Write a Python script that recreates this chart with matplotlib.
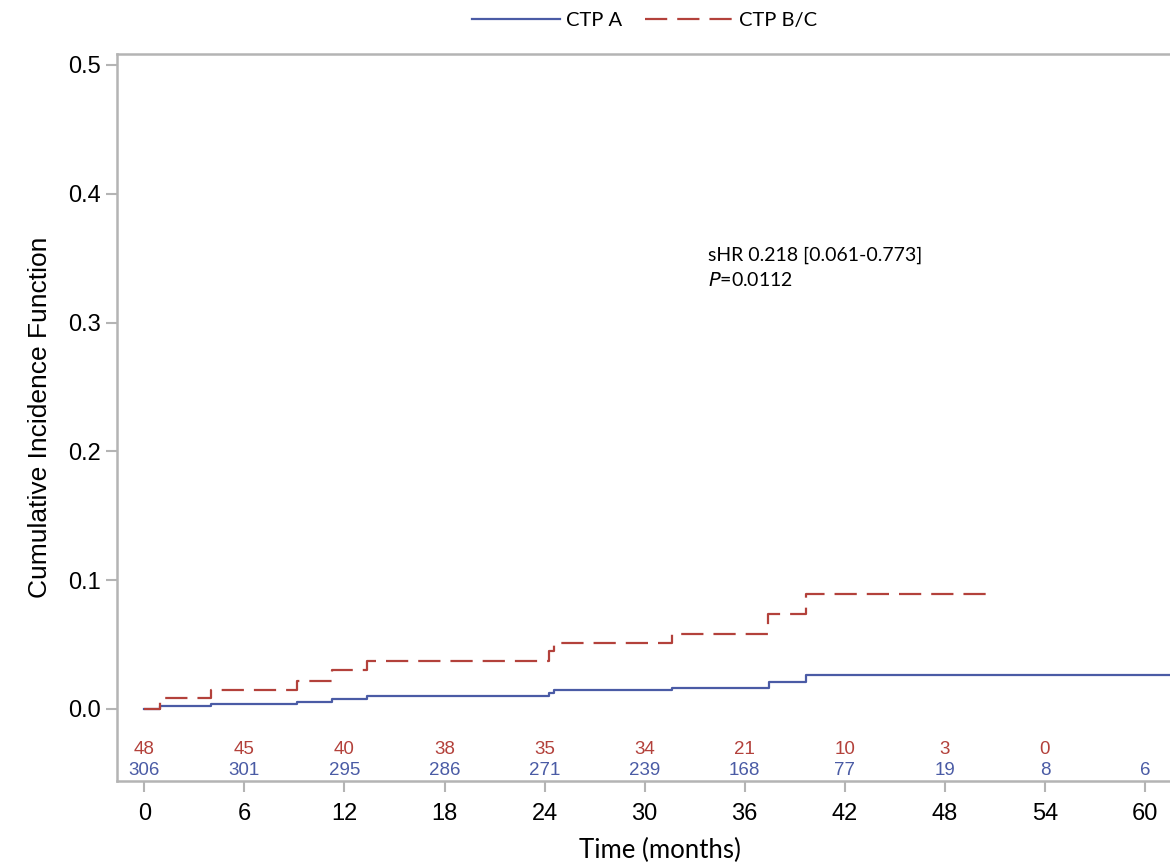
import matplotlib.pyplot as plt
from matplotlib.lines import Line2D

# cumulative incidence step curves
months_a = [0, 0.96, 4.0, 9.16, 11.27, 13.33, 24.27, 24.55, 31.65, 37.45, 39.68, 62]
cif_a = [0, 0.0022, 0.0038, 0.0056, 0.0080, 0.0102, 0.0125, 0.0149, 0.0160, 0.0205, 0.0262, 0.0262]

months_bc = [0, 0.96, 4.0, 9.16, 11.27, 13.33, 24.27, 24.55, 31.65, 37.41, 39.68, 50.56]
cif_bc = [0, 0.0084, 0.0146, 0.0219, 0.0300, 0.0371, 0.0452, 0.0509, 0.0582, 0.0736, 0.0893, 0.0893]

# numbers at risk
risk_times = [0, 6, 12, 18, 24, 30, 36, 42, 48, 54, 60]
risk_a = [306, 301, 295, 286, 271, 239, 168, 77, 19, 8, 6]
risk_bc = [48, 45, 40, 38, 35, 34, 21, 10, 3, 0]

blue = '#4a5ba5'
red = '#b3413b'
grey = '#b4b4b4'

fig = plt.figure(figsize=(11.7, 8.64), dpi=100)
ax = fig.add_axes([0.0997, 0.0964, 0.9003, 0.8408])

ax.step(months_a, cif_a, where='post', color=blue, lw=1.6)
ax.step(months_bc, cif_bc, where='post', color=red, lw=1.6, dashes=(10, 4.5))

for t, n in zip(risk_times, risk_bc):
	ax.text(t, -0.0312, str(n), color=red, ha='center', va='center', fontsize=13.5, family='Liberation Sans')
for t, n in zip(risk_times, risk_a):
	ax.text(t, -0.0475, str(n), color=blue, ha='center', va='center', fontsize=13.5, family='Liberation Sans')

ax.text(33.8, 0.3525, 'sHR 0.218 [0.061-0.773]', fontsize=14, family='Lato', va='center')
ax.text(33.8, 0.3330, '$\\it{P}$=0.0112', fontsize=14, family='Lato', va='center')

ax.set_xlim(-1.66, 61.5)
ax.set_ylim(-0.0558, 0.5083)
ax.set_xticks(risk_times)
ax.set_yticks([0, 0.1, 0.2, 0.3, 0.4, 0.5])
ax.set_yticklabels(['0.0', '0.1', '0.2', '0.3', '0.4', '0.5'])
for lab in ax.get_xticklabels() + ax.get_yticklabels():
	lab.set_family('Liberation Sans')
	lab.set_fontsize(17)
ax.tick_params(length=8, width=1.5, color=grey, pad=3)
ax.tick_params(axis='x', pad=8)

for side in ['left', 'bottom', 'top']:
	ax.spines[side].set_color(grey)
	ax.spines[side].set_linewidth(1.8)
ax.spines['right'].set_visible(False)

ax.set_xlabel('Time (months)', fontsize=18.5, family='Lato')
ax.xaxis.set_label_coords(0.516, -0.079)
ax.set_ylabel('Cumulative Incidence Function', fontsize=19,
	family=['Liberation Sans Narrow', 'Liberation Sans'], labelpad=12)

handles = [Line2D([], [], color=blue, lw=1.6),
	Line2D([], [], color=red, lw=1.6, dashes=(10, 4.5))]
fig.legend(handles, ['CTP A', 'CTP B/C'], loc='center', bbox_to_anchor=(0.551, 0.976),
	ncol=2, frameon=False, handlelength=4.4, handletextpad=0.3, columnspacing=1.1,
	prop={'family': 'Lato', 'size': 14.5})

plt.savefig('out.png', dpi=100)
